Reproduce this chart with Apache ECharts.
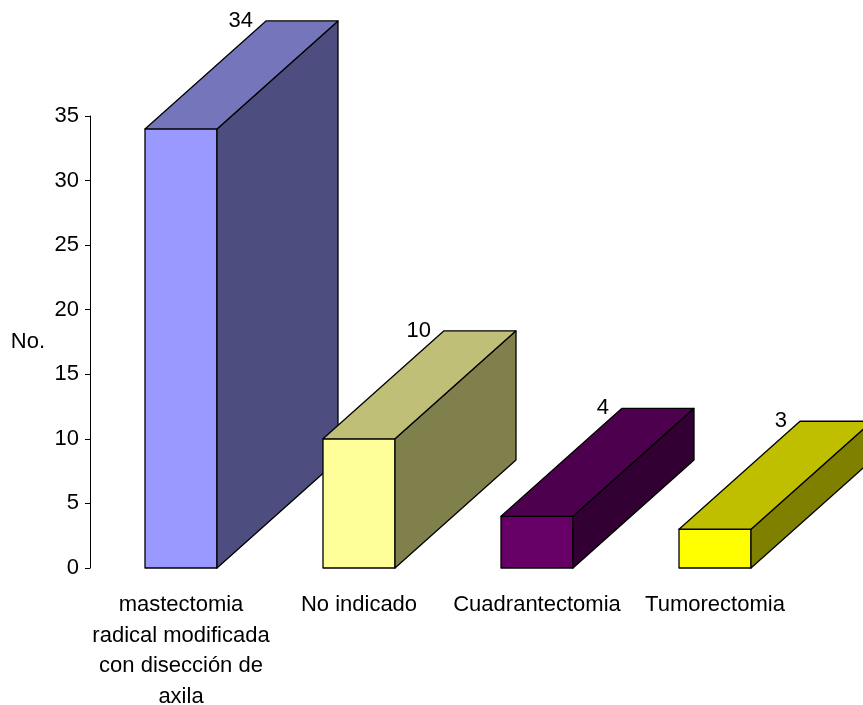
<!DOCTYPE html>
<html>
<head>
<meta charset="utf-8">
<script src="https://cdn.jsdelivr.net/npm/echarts@6/dist/echarts.min.js"></script>
<style>
  html, body { margin: 0; padding: 0; background: #fff; }
  #chart { width: 863px; height: 705px; }
</style>
</head>
<body>
<div id="chart"></div>
<script>
// Tipo de cirugía realizada
const categories = [
  'mastectomia\nradical modificada\ncon disección de\naxila',
  'No indicado',
  'Cuadrantectomia',
  'Tumorectomia'
];
const values = [34, 10, 4, 3];
const yTicks = { min: 0, max: 35, interval: 5 };

// Face colours per bar: front, top, side
const frontColors = ['#9999FF', '#FFFF99', '#660066', '#FFFF00'];
const topColors   = ['#7575BC', '#BFBF77', '#4D004D', '#BFBF00'];
const sideColors  = ['#4D4D7F', '#80804D', '#330033', '#808000'];

const FONT = "'Liberation Sans Narrow', 'Arial Narrow', 'Liberation Sans', Arial, sans-serif";
const FRONT_W = 72;   // front face width in px
const DEPTH_X = 121;  // oblique depth, horizontal
const DEPTH_Y = 108;  // oblique depth, vertical

const chart = echarts.init(document.getElementById('chart'), null, { renderer: 'canvas' });

function renderBox(params, api) {
  const idx = api.value(0);
  const val = api.value(1);
  const top = api.coord([idx, val]);
  const base = api.coord([idx, 0]);
  const x0 = top[0] - FRONT_W / 2;
  const x1 = x0 + FRONT_W;
  const yT = top[1];
  const yB = base[1];
  const i = params.dataIndex;
  const edge = { stroke: '#000', lineWidth: 1.3, lineJoin: 'round' };
  return {
    type: 'group',
    children: [
      {
        type: 'polygon',
        shape: { points: [[x0, yT], [x1, yT], [x1, yB], [x0, yB]] },
        style: Object.assign({ fill: frontColors[i] }, edge)
      },
      {
        type: 'polygon',
        shape: { points: [[x1, yT], [x1 + DEPTH_X, yT - DEPTH_Y], [x1 + DEPTH_X, yB - DEPTH_Y], [x1, yB]] },
        style: Object.assign({ fill: sideColors[i] }, edge)
      },
      {
        type: 'polygon',
        shape: { points: [[x0, yT], [x0 + DEPTH_X, yT - DEPTH_Y], [x1 + DEPTH_X, yT - DEPTH_Y], [x1, yT]] },
        style: Object.assign({ fill: topColors[i] }, edge)
      },
      {
        type: 'text',
        style: {
          text: String(val),
          x: x0 + DEPTH_X - 13,
          y: yT - DEPTH_Y,
          align: 'right',
          verticalAlign: 'middle',
          fill: '#000',
          font: '22px ' + FONT
        }
      }
    ]
  };
}

chart.setOption({
  animation: false,
  backgroundColor: '#fff',
  grid: { left: 92, top: 116, width: 712, bottom: 137, containLabel: false, outerBoundsMode: 'none' },
  xAxis: {
    type: 'category',
    data: categories,
    axisLine: { show: false },
    axisTick: { show: false },
    axisLabel: {
      interval: 0,
      margin: 22,
      color: '#000',
      fontFamily: FONT,
      fontSize: 22,
      lineHeight: 30.5,
      align: 'center'
    },
    splitLine: { show: false }
  },
  yAxis: {
    type: 'value',
    min: yTicks.min,
    max: yTicks.max,
    interval: yTicks.interval,
    offset: 2,
    name: 'No.',
    nameLocation: 'middle',
    nameRotate: 0,
    nameGap: 45,
    nameTextStyle: { color: '#000', fontFamily: FONT, fontSize: 22 },
    axisLine: { show: true, lineStyle: { color: '#000', width: 1 } },
    axisTick: { show: true, length: 5, lineStyle: { color: '#000' } },
    axisLabel: { color: '#000', fontFamily: FONT, fontSize: 22, margin: 11 },
    splitLine: { show: false }
  },
  series: [{
    type: 'custom',
    clip: false,
    renderItem: renderBox,
    data: values.map((v, i) => [i, v])
  }]
});
</script>
</body>
</html>
